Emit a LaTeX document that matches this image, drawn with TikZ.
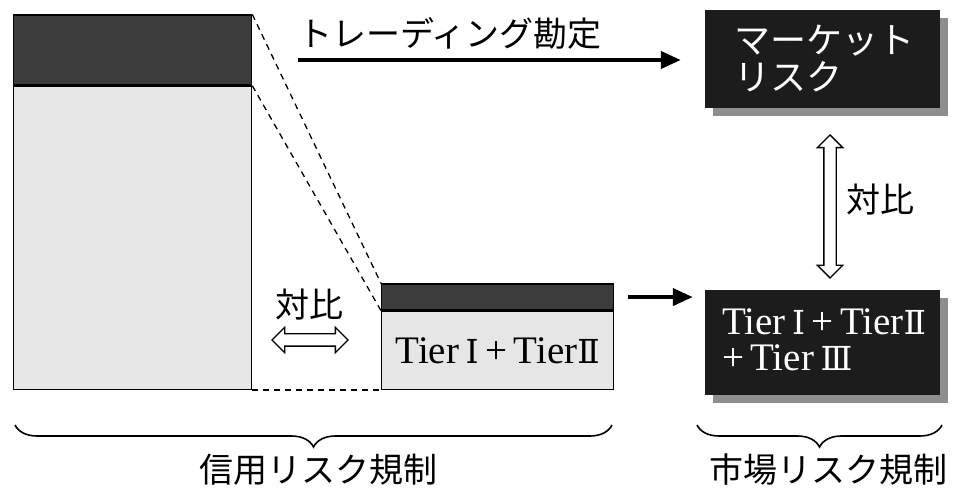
\documentclass[tikz,border=0pt]{standalone}
\usepackage{fontspec}
\setmainfont{Liberation Serif}
\newfontfamily\jp{Noto Sans CJK JP}
\newfontfamily\rnfont{DejaVu Serif}
\newcommand{\rn}[1]{{\rnfont\fontsize{33}{33}\selectfont #1}}
\usetikzlibrary{arrows.meta,shapes.arrows,shadows,decorations.pathreplacing,calc}
\definecolor{lightfill}{HTML}{E6E6E6}
\definecolor{darkfill}{HTML}{3C3C3C}
\definecolor{boxfill}{HTML}{1C1C1C}
\definecolor{shadowgray}{HTML}{8E8E8E}
\tikzset{
  lightbox/.style={draw=black, line width=1.3pt, fill=lightfill, inner sep=0pt},
  darkbar/.style={draw=black, line width=1.3pt, fill=darkfill, inner sep=0pt},
  blackbox/.style={fill=boxfill, inner sep=0pt, minimum width=235pt,
    drop shadow={shadow xshift=8pt, shadow yshift=-8pt, fill=shadowgray, opacity=1}},
  guide/.style={dashed, dash pattern=on 6pt off 5pt, line width=1.3pt},
  bigarrow/.style={line width=4pt, -{Triangle[length=20pt,width=17pt]}},
  hollowarrow/.style={double arrow, draw, line width=1.4pt, fill=white, inner sep=5.5pt,
    double arrow head extend=6.5pt, double arrow head indent=0pt},
  jptext/.style={font=\jp\fontsize{34}{38}\selectfont, inner sep=0pt},
  tiertext/.style={font=\fontsize{39}{36}\selectfont, inner sep=0pt},
  bracestyle/.style={decorate, line width=1.6pt, decoration={brace, amplitude=22pt, mirror}}
}
\begin{document}
\begin{tikzpicture}[x=1pt,y=1pt]
\useasboundingbox (0,0) rectangle (959,492);
% left big box
\node[lightbox, minimum width=238pt, minimum height=303pt, anchor=south west] (big) at (13,102) {};
\node[darkbar, minimum width=238pt, minimum height=70pt, anchor=south west] (bigtop) at (big.north west) {};
\draw[line width=3pt] (bigtop.south west) -- (bigtop.south east);
% small box
\node[lightbox, minimum width=232pt, minimum height=78pt, anchor=south west] (small) at (381,102) {};
\node[darkbar, minimum width=232pt, minimum height=26pt, anchor=south west] (smalltop) at (small.north west) {};
\draw[line width=3pt] (smalltop.south west) -- (smalltop.south east);
\node[tiertext] (smalltext) at (small.center) {Tier\,\rn{Ⅰ}\,+\,Tier\rn{Ⅱ}};
% dashed guides
\draw[guide] (bigtop.north east) -- (smalltop.north west);
\draw[guide] (bigtop.south east) -- (smalltop.south west);
\draw[guide] (big.south east) -- (small.south west);
% left comparison
\node[jptext] (cmpL) at (309,187) {対比};
\node[hollowarrow, minimum height=76pt] (dblL) at (310,152) {};
% right boxes
\node[blackbox, minimum height=98pt] (mkt) at (822.5,433) {};
\node[jptext, font=\jp\fontsize{36}{37}\selectfont, text=white, align=left] (mkttext) at ($(mkt.center)+(2,0)$) {マーケット\\リスク};
\node[blackbox, minimum height=105pt] (tier3) at (822.5,149.5) {};
\node[tiertext, text=white, align=left, anchor=west] (tier3text) at ($(tier3.west)+(17,3)$) {Tier\,\rn{Ⅰ}\,+\,Tier\rn{Ⅱ}\\+\,Tier\,\rn{Ⅲ}};
% trading arrow
\coordinate (tstart) at (298,432);
\draw[bigarrow, shorten >=24pt] (tstart) -- (tstart -| mkt.west);
\node[jptext, anchor=south west] (trlabel) at (298,442) {トレーディング勘定};
% middle arrow
\draw[bigarrow, shorten <=14pt, shorten >=12pt] (smalltop.east) -- (smalltop.east -| tier3.west);
% vertical comparison
\node[hollowarrow, rotate=90, minimum height=143pt] (dblR) at (830,285.5) {};
\node[jptext] (cmpR) at (880,292) {対比};
% braces
\coordinate (bL1) at (15,67);
\coordinate (bL2) at (612,67);
\coordinate (bR1) at (697,67);
\coordinate (bR2) at (942,67);
\draw[bracestyle] (bL1) -- (bL2);
\draw[bracestyle] (bR1) -- (bR2);
\node[jptext] (credit) at (318,22) {信用リスク規制};
\node[jptext] (market) at (828,22) {市場リスク規制};
\end{tikzpicture}
\end{document}
